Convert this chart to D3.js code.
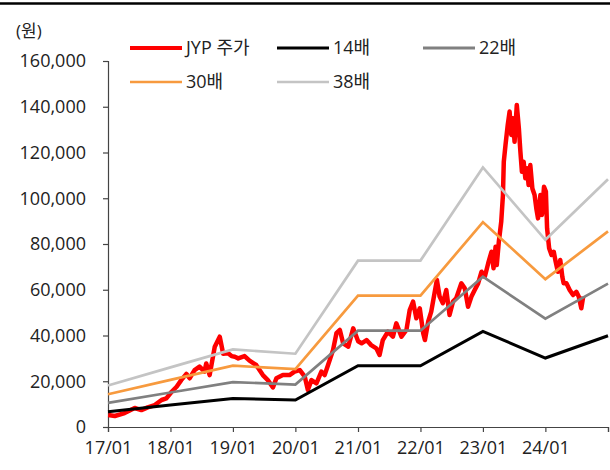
<!DOCTYPE html>
<html>
<head>
<meta charset="utf-8">
<script src="https://cdn.jsdelivr.net/npm/d3@7"></script>
<style>
  body { margin: 0; background: #fff; }
  text { font-family: "Open Sans", "Noto Sans CJK KR", sans-serif; fill: #222; }
</style>
</head>
<body>
<div id="chart"></div>
<script>
// JYP price (won)
var priceDates = ["2017-01-02","2017-02-10","2017-04-08","2017-06-06","2017-07-15","2017-08-21","2017-10-01","2017-11-10","2017-12-08",
  "2018-01-08","2018-02-06","2018-03-05","2018-04-04","2018-04-23","2018-05-22","2018-06-20","2018-07-19","2018-07-29","2018-08-18",
  "2018-09-17","2018-10-16","2018-11-05","2018-12-04","2018-12-24","2019-01-12","2019-02-01","2019-03-10","2019-04-08","2019-05-17",
  "2019-06-25","2019-07-24","2019-08-23","2019-09-12","2019-10-20","2019-11-28","2019-12-27","2020-01-27","2020-02-25","2020-03-14",
  "2020-04-04","2020-05-03","2020-06-01","2020-06-20","2020-07-10","2020-08-08","2020-08-28","2020-09-17","2020-10-06","2020-11-05",
  "2020-12-04","2021-01-02","2021-01-22","2021-02-20","2021-03-19","2021-04-18","2021-05-07","2021-05-26","2021-06-25","2021-07-24",
  "2021-08-13","2021-09-12","2021-10-11","2021-10-30","2021-11-19","2021-12-08","2021-12-28","2022-01-17","2022-01-27","2022-02-15",
  "2022-03-05","2022-03-24","2022-04-07","2022-04-23","2022-05-12","2022-06-01","2022-06-20","2022-07-10","2022-07-29","2022-08-28",
  "2022-09-17","2022-10-06","2022-10-26","2022-11-14","2022-12-04","2022-12-24","2023-01-12","2023-02-01",
  "2023-02-20","2023-03-04","2023-03-16","2023-03-23","2023-04-04","2023-04-18","2023-04-28","2023-05-03","2023-05-13","2023-05-26",
  "2023-06-06","2023-06-16","2023-06-25","2023-07-05","2023-07-18","2023-07-30","2023-08-08","2023-08-17","2023-08-27","2023-09-06",
  "2023-09-16","2023-09-25","2023-10-05","2023-10-17","2023-10-30","2023-11-09","2023-11-19","2023-12-03","2023-12-12","2023-12-24",
  "2024-01-04","2024-01-11","2024-01-23","2024-02-06","2024-02-19","2024-03-01","2024-03-14","2024-03-28","2024-04-09","2024-04-17",
  "2024-05-03","2024-05-22","2024-06-11","2024-06-30","2024-07-14","2024-07-29","2024-08-09"];
var priceValues = [5250,4800,6100,8300,7400,8600,9600,11800,12500,
  15400,17600,20500,23200,21300,24900,26400,24200,27800,22700,
  35100,39500,32000,32200,31000,30700,30000,31000,29000,27100,
  22700,20500,17300,21300,22700,22700,24200,24900,22000,16200,
  20500,19100,24200,22700,27100,33600,41000,42400,36600,35100,
  43100,37500,36600,38000,35800,34400,31500,38000,41700,39500,
  45300,39500,42400,51100,54800,47500,51900,41000,38000,46000,
  50400,58400,64300,57000,54100,59900,49000,54800,56300,62800,
  60600,52600,57000,59900,62800,67900,65700,71600,
  76600,69400,78800,70800,81000,89700,101400,116000,123300,132000,
  137900,127700,135000,124700,140800,130600,120400,111600,116000,108700,
  113100,105800,114500,104300,101400,95600,91200,101400,92700,105000,
  102900,86900,78100,75200,76600,72300,67900,73000,65700,62800,
  62800,59900,57700,59100,57000,51900,57000];

// per-share earnings used for the PER bands
var bandDates = ["2017-01-01","2018-01-01","2019-01-01","2020-01-01","2021-01-01","2022-01-01","2023-01-01","2024-01-01","2025-01-01"];
var eps = [478, 686, 893, 843, 1914, 1914, 2986, 2154, 2850];
var multiples = [14, 22, 30, 38];
var bandNames = ["14배", "22배", "30배", "38배"];
var bandColors = ["#000000", "#808080", "#F79A3E", "#C4C4C4"];

var yTicks = [0, 20000, 40000, 60000, 80000, 100000, 120000, 140000, 160000];
var xTickDates = ["2017-01-01","2018-01-01","2019-01-01","2020-01-01","2021-01-01","2022-01-01","2023-01-01","2024-01-01","2025-01-01"];
var xTickLabels = ["17/01","18/01","19/01","20/01","21/01","22/01","23/01","24/01",""];

var svgWidth = 610;
var svgHeight = 470;
var margin = { top: 61, right: 2, bottom: 43, left: 108 };
var width = svgWidth - margin.left - margin.right;
var height = svgHeight - margin.top - margin.bottom;

var parse = d3.timeParse("%Y-%m-%d");

var svg = d3.select("#chart").append("svg")
  .attr("width", svgWidth)
  .attr("height", svgHeight);

// top rule
svg.append("line")
  .attr("x1", 0).attr("x2", svgWidth)
  .attr("y1", 3.5).attr("y2", 3.5)
  .attr("stroke", "#000").attr("stroke-width", 2.5);

var chartGroup = svg.append("g")
  .attr("transform", `translate(${margin.left}, ${margin.top})`);

var x = d3.scaleTime()
  .domain([parse("2017-01-01"), parse("2025-01-01")])
  .range([0, width]);
var y = d3.scaleLinear()
  .domain([0, 160000])
  .range([height, 0]);

// axes
var leftAxis = d3.axisLeft(y)
  .tickValues(yTicks)
  .tickSize(5)
  .tickPadding(17)
  .tickFormat(d3.format(","));
var gy = chartGroup.append("g").call(leftAxis);

var bottomAxis = d3.axisBottom(x)
  .tickValues(xTickDates.map(parse))
  .tickSize(5)
  .tickPadding(9)
  .tickFormat((d, i) => xTickLabels[i]);
var gx = chartGroup.append("g")
  .attr("transform", `translate(0, ${height})`)
  .call(bottomAxis);

[gx, gy].forEach(function(g) {
  g.select(".domain").attr("stroke", "#444").attr("stroke-width", 1.2);
  g.selectAll(".tick line").attr("stroke", "#444").attr("stroke-width", 1.2);
  g.selectAll("text").style("font-size", "18px").attr("fill", "#222");
});

// price line
var priceData = priceDates.map((d, i) => ({ date: parse(d), value: priceValues[i] }));
var line = d3.line().x(d => x(d.date)).y(d => y(d.value));

chartGroup.append("path")
  .datum(priceData)
  .attr("fill", "none")
  .attr("stroke", "#FF0000")
  .attr("stroke-width", 4.5)
  .attr("stroke-linejoin", "round")
  .attr("d", line);

// PER bands
multiples.forEach(function(m, k) {
  var band = bandDates.map((d, i) => ({ date: parse(d), value: eps[i] * m }));
  chartGroup.append("path")
    .datum(band)
    .attr("fill", "none")
    .attr("stroke", bandColors[k])
    .attr("stroke-width", k === 0 ? 3 : 2.7)
    .attr("d", line);
});

// unit label
svg.append("text")
  .attr("x", 16).attr("y", 37)
  .style("font-size", "17px")
  .text("(원)");

// legend
var legendItems = [
  { name: "JYP 주가", color: "#FF0000", w: 4, x: 130, y: 48 },
  { name: bandNames[0], color: bandColors[0], w: 3, x: 277, y: 48 },
  { name: bandNames[1], color: bandColors[1], w: 3, x: 423, y: 48 },
  { name: bandNames[2], color: bandColors[2], w: 2.7, x: 130, y: 82 },
  { name: bandNames[3], color: bandColors[3], w: 2.7, x: 277, y: 82 }
];
var legend = svg.selectAll(".legend")
  .data(legendItems)
  .enter()
  .append("g")
  .attr("class", "legend")
  .attr("transform", d => `translate(${d.x}, ${d.y})`);
legend.append("line")
  .attr("x1", 0).attr("x2", 52)
  .attr("stroke", d => d.color)
  .attr("stroke-width", d => d.w);
legend.append("text")
  .attr("x", 56).attr("dy", "0.35em")
  .style("font-size", "18px")
  .text(d => d.name);
</script>
</body>
</html>
